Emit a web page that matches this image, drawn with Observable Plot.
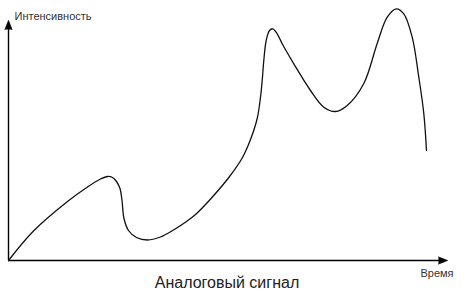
<!DOCTYPE html>
<html>
<head>
<meta charset="utf-8">
<script src="https://cdn.jsdelivr.net/npm/d3@7"></script>
<script src="https://cdn.jsdelivr.net/npm/@observablehq/plot@0.6"></script>
<style>
  html, body { margin: 0; padding: 0; background: #fff; }
  body { position: relative; width: 468px; height: 301px; overflow: hidden; font-family: "Liberation Sans", Arial, sans-serif; }
  #title { position: absolute; left: 0; top: 270px; width: 454px; text-align: center; font-size: 16px; line-height: 26px; color: #222; }
</style>
</head>
<body>
<div id="chart"></div>
<div id="title"></div>
<script>
// Signal samples (time, intensity), arbitrary units
const time =      [0, 25,   59, 79,   92,   99, 104, 108, 111.5, 113.5, 115.5, 120, 128, 139,  152,  165,  178, 187, 203.7, 220.3, 233.7, 242, 248.7, 252,   253.7, 255.3, 257.7, 261, 264.3, 268.7, 273.7, 285.3, 302, 315.3, 327, 338.7, 355.3, 368.7, 378.7, 387.7, 395.3, 403.7, 410.3, 415.3, 418];
const intensity = [0, 29.5, 59, 73.5, 81.5, 84, 83,  79,  72,    60,    42,    30,  23,  20.5, 23.5, 30.5, 39,  46,  63.3,  83,    102.5, 121, 142,   163.3, 180,   200,   220,   230, 231.7, 226.7, 216.7, 196.7, 170, 153.3, 149, 155,   177,   217,   243.3, 251.7, 246.7, 223.3, 183.3, 147,   110];
const xEnd = 439;   // end of time axis
const yEnd = 240;   // end of intensity axis
const xLabel = "Время";
const yLabel = "Интенсивность";
const titleText = "Аналоговый сигнал";

const signal = time.map((t, i) => ({t, v: intensity[i]}));
const axisEnds = [{x: xEnd, y: 0, angle: 90}, {x: 0, y: yEnd, angle: 0}];

const chart = Plot.plot({
  width: 468,
  height: 301,
  marginLeft: 8,
  marginRight: 21,
  marginTop: 20,
  marginBottom: 41,
  style: {fontFamily: "'Liberation Sans', Arial, sans-serif", background: "#fff"},
  x: {domain: [0, xEnd], axis: null},
  y: {domain: [0, yEnd], axis: null},
  marks: [
    Plot.ruleY([0], {x1: 0, x2: xEnd - 4, stroke: "#000", strokeWidth: 1.4}),
    Plot.ruleX([0], {y1: 0, y2: yEnd - 4, stroke: "#000", strokeWidth: 1.4}),
    Plot.vector(axisEnds, {x: "x", y: "y", rotate: "angle", length: 9, r: 3.5, shape: "spike", anchor: "end", fill: "#000", stroke: "#000", strokeWidth: 0.8}),
    Plot.line(signal, {x: "t", y: "v", curve: "catmull-rom", stroke: "#111", strokeWidth: 1.3}),
    Plot.text([yLabel], {x: 6, y: yEnd + 4, text: d => d, textAnchor: "start", fontSize: 11, fill: "#333"}),
    Plot.text([xLabel], {x: 428.5, y: -13, text: d => d, textAnchor: "middle", fontSize: 11, fill: "#333"})
  ]
});
document.getElementById("chart").appendChild(chart);
document.getElementById("title").textContent = titleText;
</script>
</body>
</html>
